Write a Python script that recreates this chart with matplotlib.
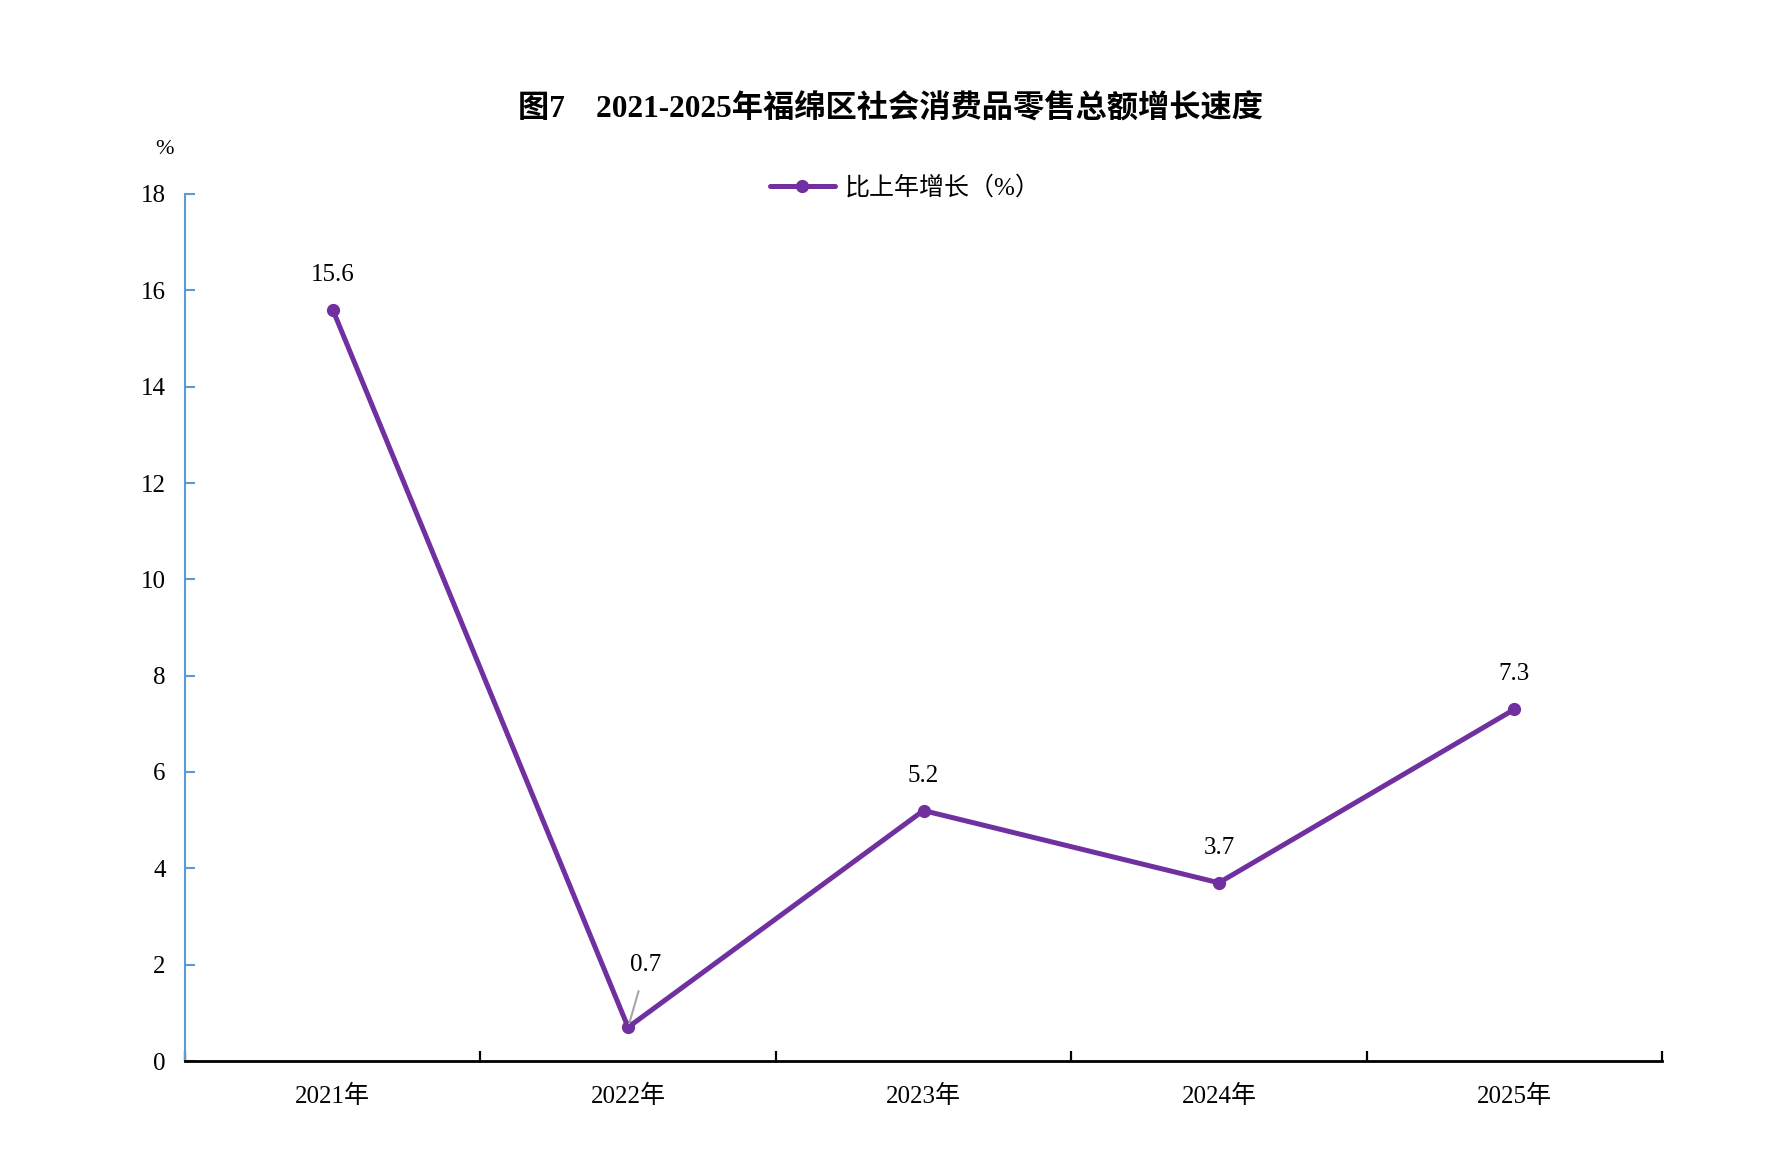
import matplotlib
matplotlib.use("Agg")
import matplotlib.pyplot as plt
from matplotlib.ticker import FixedLocator

plt.rcParams['font.family'] = ['Liberation Serif', 'Noto Sans CJK SC', 'DejaVu Sans']

categories = ["2021年", "2022年", "2023年", "2024年", "2025年"]
values = [15.6, 0.7, 5.2, 3.7, 7.3]
labels = ["15.6", "0.7", "5.2", "3.7", "7.3"]
yticks = [0, 2, 4, 6, 8, 10, 12, 14, 16, 18]
title = "图7　2021-2025年福绵区社会消费品零售总额增长速度"
series_name = "比上年增长（%）"

W, H = 1768, 1167
L, R, B, T = 185, 1662, 1061, 194
fig = plt.figure(figsize=(W / 100, H / 100), dpi=100)
ax = fig.add_axes([L / W, 1 - B / H, (R - L) / W, (B - T) / H])

purple = "#7030A0"
blue = "#5B9BD5"
x = list(range(len(categories)))
line, = ax.plot(x, values, color=purple, lw=3.6, marker="o", ms=8.5,
                solid_capstyle="round", label=series_name, zorder=3)

ax.set_xlim(-0.5, len(categories) - 0.5)
ax.set_ylim(0, 18)
ax.set_yticks(yticks)
ax.set_yticklabels([str(v) for v in yticks], fontsize=18)

# category boundaries as major ticks, labels at minor ticks
ax.xaxis.set_major_locator(FixedLocator([i - 0.5 for i in range(len(categories) + 1)]))
ax.set_xticklabels([])
ax.set_xticks(x, minor=True)
ax.set_xticklabels(categories, minor=True, fontsize=18)
ax.tick_params(axis="x", which="major", direction="in", length=7.2, width=1.6, color="black")
ax.tick_params(axis="x", which="minor", length=0, pad=17.5)
ax.tick_params(axis="y", direction="in", length=7.2, width=1.5, color=blue, pad=14)

for s in ["top", "right"]:
    ax.spines[s].set_visible(False)
ax.spines["left"].set_color(blue)
ax.spines["left"].set_linewidth(1.5)
ax.spines["bottom"].set_color("black")
ax.spines["bottom"].set_linewidth(2)

for i, (v, lab) in enumerate(zip(values, labels)):
    if i == 1:
        ax.annotate(lab, xy=(i, v), xytext=(18, 62), textcoords="offset pixels",
                    ha="center", va="center", fontsize=18,
                    arrowprops=dict(arrowstyle="-", color="#A6A6A6", lw=1.5,
                                    shrinkA=9, shrinkB=3))
    else:
        ax.annotate(lab, xy=(i, v), xytext=(0, 35), textcoords="offset pixels",
                    ha="center", va="center", fontsize=18)

fig.text(890 / W, 1 - 109 / H, title, ha="center", va="center",
         fontsize=22.5, fontweight="bold")
fig.text(164 / W, 1 - 149 / H, "%", ha="center", va="center", fontsize=16)

fig.legend(handles=[line], loc="center", bbox_to_anchor=(905 / W, 1 - 188 / H),
           frameon=False, fontsize=18, handlelength=2.6, handletextpad=0.4)

fig.savefig("out.png", dpi=100, facecolor="white")
